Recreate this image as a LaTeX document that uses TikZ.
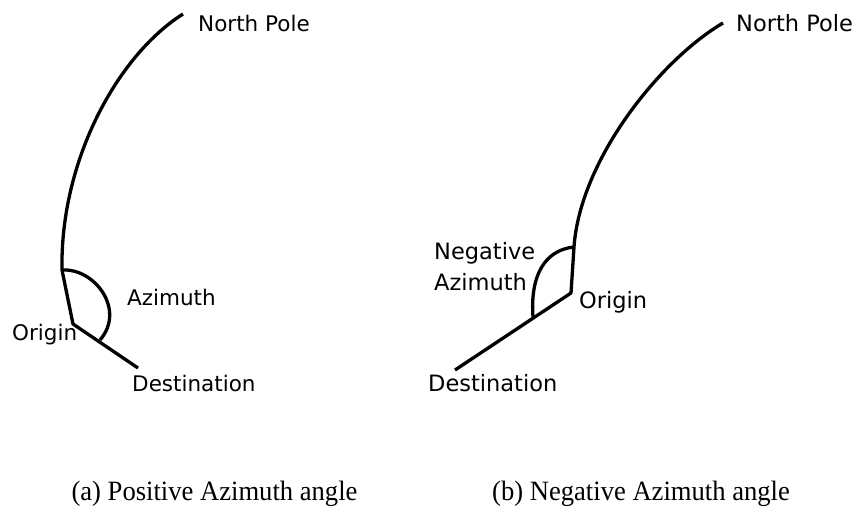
\documentclass[tikz,border=0pt]{standalone}
\usepackage{fontspec}
\setmainfont{Liberation Serif}
\newfontfamily\labfont{DejaVu Sans}
\begin{document}
\begin{tikzpicture}[x=1pt,y=-1pt,
  stroke/.style={line width=3.3pt,line join=round},
  lblL/.style={anchor=west,inner sep=0pt,font=\labfont\fontsize{21.5}{31}\selectfont},
  lblR/.style={anchor=west,inner sep=0pt,font=\labfont\fontsize{22.5}{31}\selectfont},
  capt/.style={anchor=base,inner sep=0pt,xscale=0.95,font=\fontsize{28}{32}\selectfont}]
\useasboundingbox (0,0) rectangle (856,507);
% ---- left panel
\coordinate (NPa) at (183,14);
\coordinate (Ja) at (62,270);
\coordinate (Oa) at (73,324);
\coordinate (Da) at (138,368);
\coordinate (Ea) at (100,340);
\draw[stroke] (NPa) .. controls (118,55) and (60,160) .. (Ja) -- (Oa) -- (Da);
\draw[stroke] (Ja) .. controls (95,268) and (126,310) .. (Ea);
\node[lblL] (tNPa) at (198,23) {North Pole};
\node[lblL] (tAza) at (127,297) {Azimuth};
\node[lblL] (tOa) at (12,335) {Origin};
\node[lblL] (tDa) at (132,383) {Destination};
% ---- right panel
\coordinate (NPb) at (723,23);
\coordinate (Jb) at (574,247);
\coordinate (Ob) at (571,293);
\coordinate (Db) at (455,370);
\coordinate (Eb) at (533,317);
\draw[stroke] (NPb) .. controls (660,60) and (580,160) .. (Jb) -- (Ob) -- (Db);
\draw[stroke] (Jb) .. controls (545,250) and (530,275) .. (Eb);
\node[lblR] (tNPb) at (736,23) {North Pole};
\node[lblR,align=left] (tAzb) at (434,266.5) {Negative\\Azimuth};
\node[lblR] (tOb) at (579,302) {Origin};
\node[lblR] (tDb) at (428,383) {Destination};
% ---- captions
\node[capt] (capa) at (214.5,500) {(a) Positive Azimuth angle};
\node[capt] (capb) at (641,500) {(b) Negative Azimuth angle};
\end{tikzpicture}
\end{document}
